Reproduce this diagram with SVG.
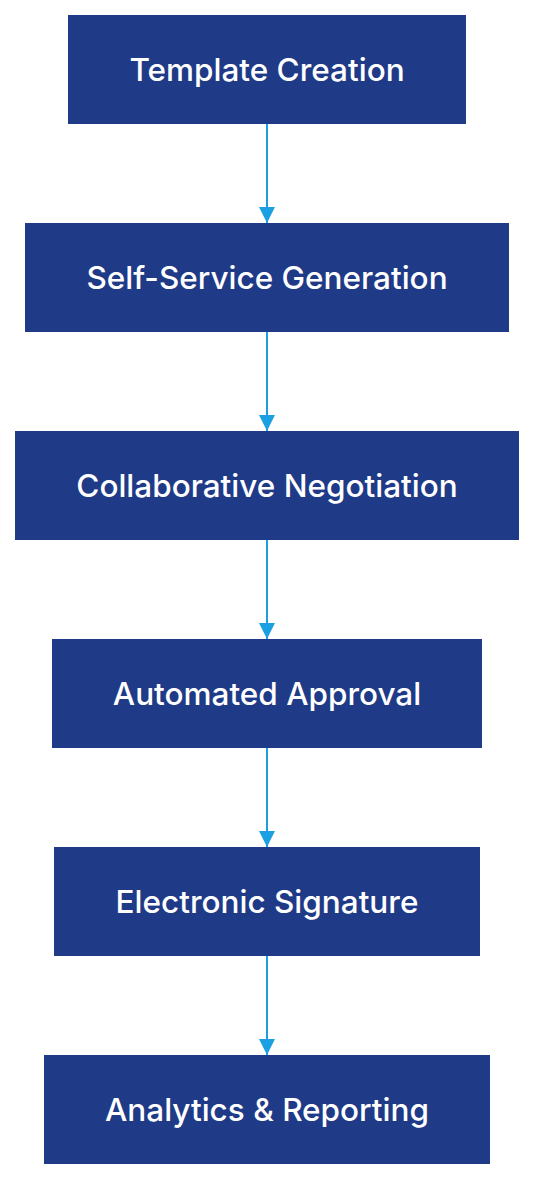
<svg xmlns="http://www.w3.org/2000/svg" width="534" height="1180" viewBox="0 0 534 1180">
<defs>
<style>
.box{fill:#1f3a87;}
.lbl{font-family:Inter,"Noto Sans",sans-serif;font-size:31.5px;font-weight:500;fill:#ffffff;text-anchor:middle;dominant-baseline:central;}
.edge{stroke:#1ba1e2;stroke-width:2;fill:none;}
</style>
<marker id="ah" viewBox="0 0 16 16" refX="16" refY="8" markerWidth="16" markerHeight="16" markerUnits="userSpaceOnUse" orient="auto">
<path d="M0,0 L16,8 L0,16 Z" fill="#1ba1e2"/>
</marker>
</defs>
<rect width="534" height="1180" fill="#ffffff"/>
<g id="connectors">
<line class="edge" x1="267" y1="124" x2="267" y2="223" marker-end="url(#ah)"/>
<line class="edge" x1="267" y1="332" x2="267" y2="431" marker-end="url(#ah)"/>
<line class="edge" x1="267" y1="540" x2="267" y2="639" marker-end="url(#ah)"/>
<line class="edge" x1="267" y1="748" x2="267" y2="847" marker-end="url(#ah)"/>
<line class="edge" x1="267" y1="956" x2="267" y2="1055" marker-end="url(#ah)"/>
</g>
<g id="n1"><rect class="box" x="68" y="15" width="398" height="109"/><text class="lbl" x="267" y="69">Template Creation</text></g>
<g id="n2"><rect class="box" x="25" y="223" width="484" height="109"/><text class="lbl" x="267" y="277">Self-Service Generation</text></g>
<g id="n3"><rect class="box" x="15" y="431" width="504" height="109"/><text class="lbl" x="267" y="485">Collaborative Negotiation</text></g>
<g id="n4"><rect class="box" x="52" y="639" width="430" height="109"/><text class="lbl" x="267" y="693">Automated Approval</text></g>
<g id="n5"><rect class="box" x="54" y="847" width="426" height="109"/><text class="lbl" x="267" y="901">Electronic Signature</text></g>
<g id="n6"><rect class="box" x="44" y="1055" width="446" height="109"/><text class="lbl" x="267" y="1109">Analytics &amp; Reporting</text></g>
</svg>
